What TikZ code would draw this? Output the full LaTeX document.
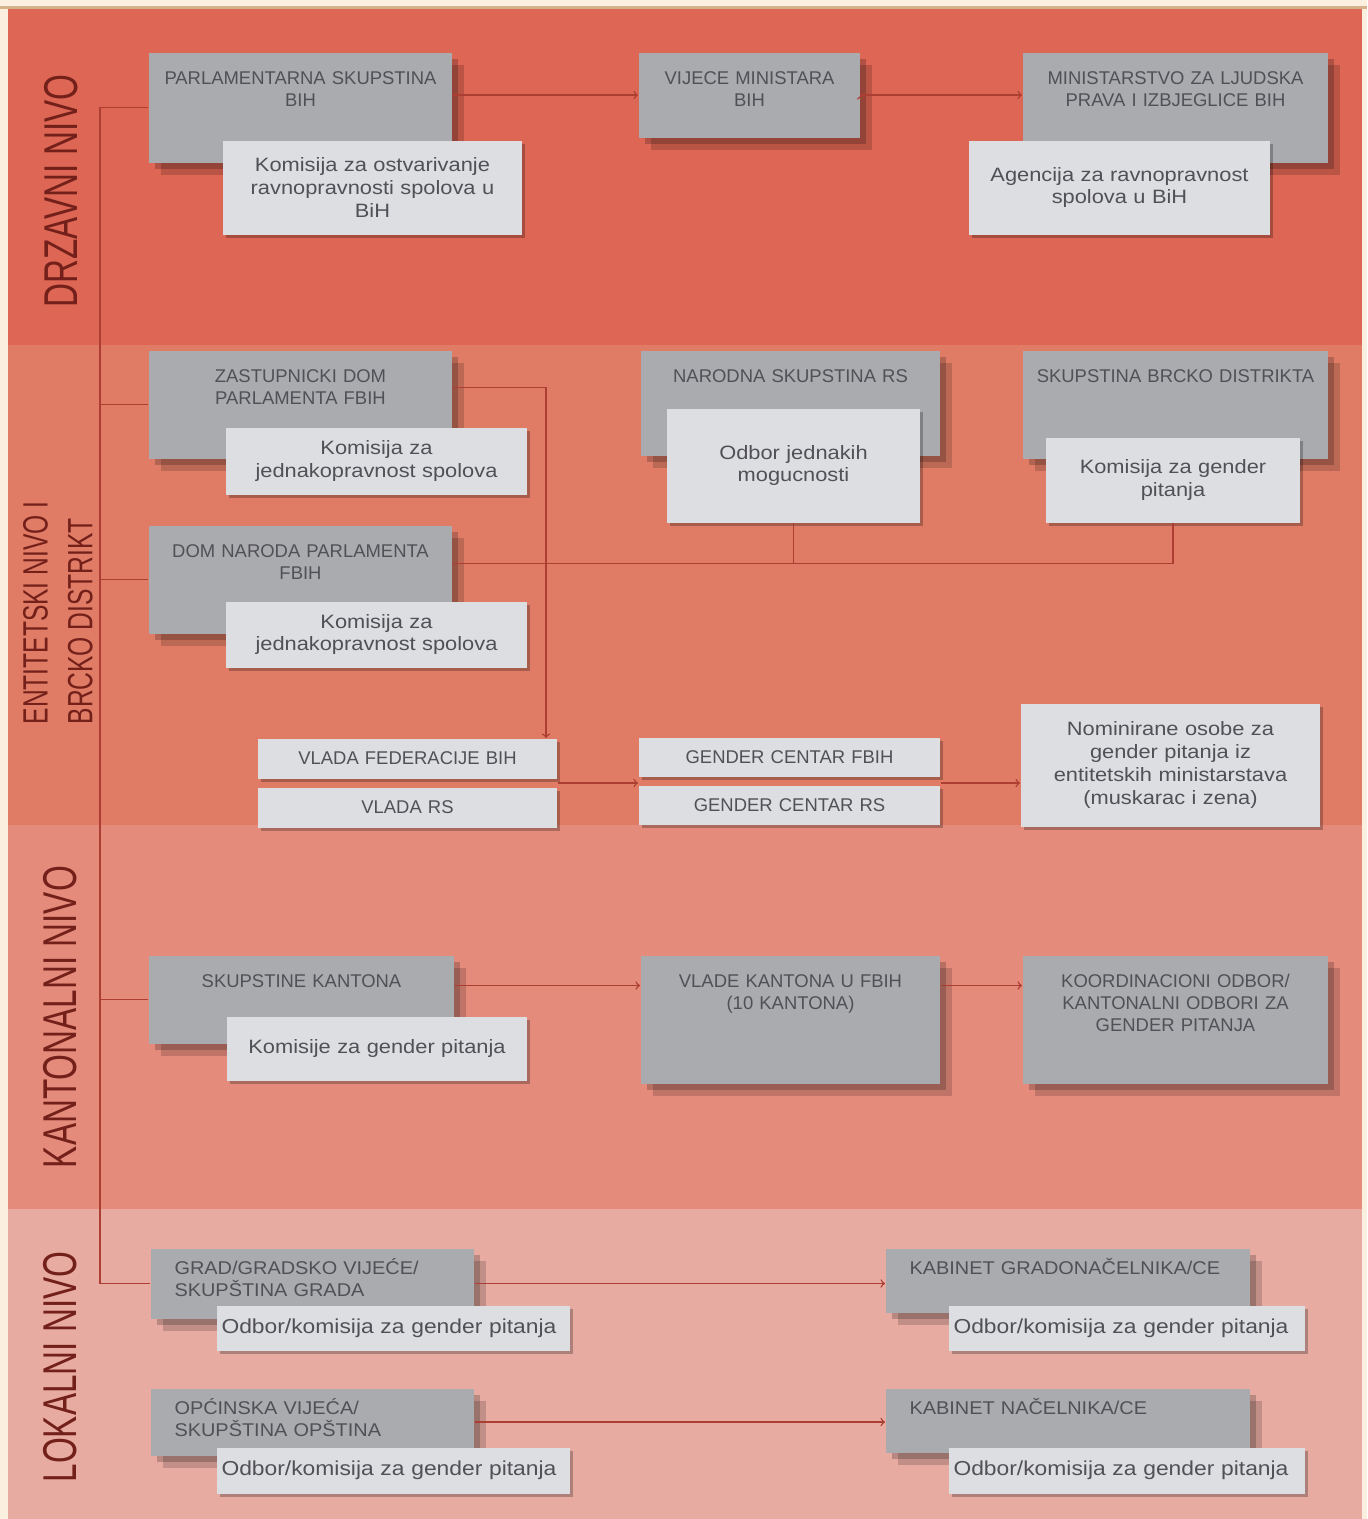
\documentclass[tikz,border=0pt]{standalone}
\usepackage{fontspec}
\setmainfont{Liberation Sans}
\newfontfamily\bandfont[FakeStretch=0.7]{Liberation Sans}
\newfontfamily\subbox[FakeStretch=1.13]{Liberation Sans}
\newfontfamily\lokbox[FakeStretch=1.08]{Liberation Sans}
\usepackage{xcolor}
\usepackage{tikz}
\usetikzlibrary{positioning}
\usetikzlibrary{arrows}
\usetikzlibrary{shadows}
\usetikzlibrary{calc}

\definecolor{drzred}{RGB}{222,102,84}
\definecolor{entred}{RGB}{224,124,102}
\definecolor{kanred}{RGB}{229,139,124}
\definecolor{lokred}{RGB}{231,171,162}
\definecolor{cream}{RGB}{251,240,224}
\definecolor{tanline}{RGB}{214,178,140}
\definecolor{boxgray}{RGB}{170,171,174}
\definecolor{boxlight}{RGB}{221,222,225}
\definecolor{txtgray}{RGB}{80,80,86}
\definecolor{lbltxt}{RGB}{115,32,26}
\definecolor{connred}{RGB}{172,62,50}

\newcommand{\capsfont}{\fontsize{10.5}{12.5}\selectfont}
\newcommand{\subfont}{\subbox\fontsize{11}{13}\selectfont}
\newcommand{\lokfont}{\subbox\fontsize{11.5}{14}\selectfont}

\begin{document}
\begin{tikzpicture}[x=0.02cm,y=-0.02cm,semithick,
  gbox/.style={fill=boxgray,text=txtgray,font=\capsfont,align=center,anchor=north west,
    inner xsep=0pt,inner ysep=.38cm,text height=.26cm,
    drop shadow={shadow xshift=.12cm,shadow yshift=-.12cm,fill=black,opacity=.2},
    drop shadow={shadow xshift=.24cm,shadow yshift=-.24cm,fill=black,opacity=.16}},
  gboxl/.style={gbox,font=\lokbox\capsfont,align=left,inner xsep=.48cm,inner ysep=.26cm},
  lbox/.style={fill=boxlight,text=txtgray,font=\subfont,align=center,anchor=north west,
    inner xsep=0pt,inner ysep=0pt,
    drop shadow={shadow xshift=.06cm,shadow yshift=-.06cm,fill=black,opacity=.25}},
  lboxc/.style={lbox,font=\capsfont},
  lboxl/.style={lbox,font=\lokfont,align=left,inner xsep=.1cm},
  band/.style={text=lbltxt,rotate=90,font=\bandfont\fontsize{27}{29}\selectfont},
  conn/.style={draw=connred,line width=.8pt}]

\useasboundingbox (0,0) rectangle (1367,1519);
\fill[cream] (0,0) rectangle (1367,1519);
\fill[tanline] (0,6) rectangle (1367,9);
\fill[drzred] (8,9) rectangle (1362,345);
\fill[entred] (8,345) rectangle (1362,825);
\fill[kanred] (8,825) rectangle (1362,1209);
\fill[lokred] (8,1209) rectangle (1362,1519);

\node[band] (drzlbl) at (61,191) {DRZAVNI NIVO};
\node[band,align=left,font=\bandfont\fontsize{20}{25.5}\selectfont] (entlbl) at (58,613)
  {ENTITETSKI NIVO I\\BRCKO DISTRIKT};
\node[band] (kanlbl) at (60,1017) {KANTONALNI NIVO};
\node[band] (loklbl) at (60,1367) {LOKALNI NIVO};

\node[gbox,text width=6.08cm,text depth=1.18cm] (parl)   at (148,52)  {PARLAMENTARNA SKUPSTINA\\BIH};
\node[lbox,text width=6cm,minimum height=1.88cm]  (parlsub) at (222,140) {Komisija za ostvarivanje\\ravnopravnosti spolova u\\BiH};
\node[gbox,text width=4.44cm,text depth=.68cm]  (vijece) at (638,52)  {VIJECE MINISTARA\\BIH};
\node[gbox,text width=6.12cm,text depth=1.18cm] (minis)  at (1022,52) {MINISTARSTVO ZA LJUDSKA\\PRAVA I IZBJEGLICE BIH};
\node[lbox,text width=6.04cm,minimum height=1.88cm] (agsub) at (968,140) {Agencija za ravnopravnost\\spolova u BiH};

\node[gbox,text width=6.08cm,text depth=1.14cm] (zast)   at (148,350) {ZASTUPNICKI DOM\\PARLAMENTA FBIH};
\node[lbox,text width=6.04cm,minimum height=1.34cm] (zastsub) at (225,427) {Komisija za\\jednakopravnost spolova};
\node[gbox,text width=6.08cm,text depth=1.14cm] (dom)    at (148,525) {DOM NARODA PARLAMENTA\\FBIH};
\node[lbox,text width=6.04cm,minimum height=1.32cm] (domsub) at (225,601) {Komisija za\\jednakopravnost spolova};
\node[gbox,text width=6cm,text depth=1.08cm]    (narodna) at (640,350) {NARODNA SKUPSTINA RS};
\node[lbox,text width=5.08cm,minimum height=2.28cm] (odbor) at (666,408) {Odbor jednakih\\mogucnosti};
\node[gbox,text width=6.12cm,text depth=1.14cm] (brcko)  at (1022,350) {SKUPSTINA BRCKO DISTRIKTA};
\node[lbox,text width=5.1cm,minimum height=1.7cm] (brsub) at (1045,437) {Komisija za gender\\pitanja};

\node[lboxc,text width=6cm,minimum height=.8cm]    (vladaf)  at (257,738) {VLADA FEDERACIJE BIH};
\node[lboxc,text width=6cm,minimum height=.8cm]    (vladars) [below=.16cm of vladaf] {VLADA RS};
\node[lboxc,text width=6.04cm,minimum height=.78cm] (gcf)    at (638,737) {GENDER CENTAR FBIH};
\node[lboxc,text width=6.04cm,minimum height=.78cm] (gcrs)   [below=.16cm of gcf] {GENDER CENTAR RS};
\node[lbox,text width=6cm,minimum height=2.46cm]   (nom)     at (1020,703)
  {Nominirane osobe za\\gender pitanja iz\\entitetskih ministarstava\\(muskarac i zena)};

\node[gbox,text width=6.12cm,text depth=.74cm]  (skk)    at (148,955) {SKUPSTINE KANTONA};
\node[lbox,text width=6.02cm,minimum height=1.28cm] (skksub) at (226,1016) {Komisije za gender pitanja};
\node[gbox,text width=6cm,text depth=1.54cm]    (vlk)    at (640,955) {VLADE KANTONA U FBIH\\(10 KANTONA)};
\node[gbox,text width=6.12cm,text depth=1.54cm] (koord)  at (1022,955) {KOORDINACIONI ODBOR/\\KANTONALNI ODBORI ZA\\GENDER PITANJA};

\node[gboxl,text width=5.52cm,text depth=.62cm] (grad)   at (150,1248) {GRAD/GRADSKO VIJEĆE/\\SKUPŠTINA GRADA};
\node[lboxl,text width=6.88cm,minimum height=.9cm] (gradsub) at (216,1305) {Odbor/komisija za gender pitanja};
\node[gboxl,text width=5.52cm,text depth=.56cm] (opc)    at (150,1388) {OPĆINSKA VIJEĆA/\\SKUPŠTINA OPŠTINA};
\node[lboxl,text width=6.88cm,minimum height=.92cm] (opcsub) at (216,1447) {Odbor/komisija za gender pitanja};
\node[gboxl,text width=6.34cm,text depth=.5cm]  (kabg)   at (885,1248) {KABINET GRADONAČELNIKA/CE};
\node[lboxl,text width=6.94cm,minimum height=.9cm] (kabgsub) at (948,1305) {Odbor/komisija za gender pitanja};
\node[gboxl,text width=6.34cm,text depth=.5cm]  (kabn)   at (885,1388) {KABINET NAČELNIKA/CE};
\node[lboxl,text width=6.94cm,minimum height=.92cm] (kabnsub) at (948,1447) {Odbor/komisija za gender pitanja};

\coordinate (spine) at (100,105);
\coordinate (dj) at ([yshift=.32cm]dom.east);
\coordinate (vg) at ($(vladaf.south east)!.5!(vladars.north east)$);
\coordinate (kk) at ([yshift=.28cm]skk.east);

\draw[conn] (parl.west) -- (parl.west -| spine) |- (grad.west);
\path[conn] (spine |- zast.west) edge (zast.west)
            (spine |- dom.west)  edge (dom.west)
            (spine |- skk.west)  edge (skk.west);

\path[conn,->] (parl.east |- vijece.west) edge (vijece.west)
               (vijece.east) edge (vijece.east -| minis.west);
\draw[conn,->] ([yshift=.34cm]zast.east) -| ([xshift=-.24cm]vladaf.north east);
\draw[conn] (dj) -| (brsub.south);
\draw[conn] (odbor.south) -- (odbor.south |- dj);
\draw[conn,->] (vg) -- (vg -| gcf.west);
\draw[conn,->] (vg -| gcf.east) -- (vg -| nom.west);
\draw[conn,->] (kk) -- (kk -| vlk.west);
\draw[conn,->] (kk -| vlk.east) -- (kk -| koord.west);
\draw[conn,->] (grad.east) -- (grad.east -| kabg.west);
\draw[conn,->] (opc.east) -- (opc.east -| kabn.west);

\end{tikzpicture}
\end{document}
